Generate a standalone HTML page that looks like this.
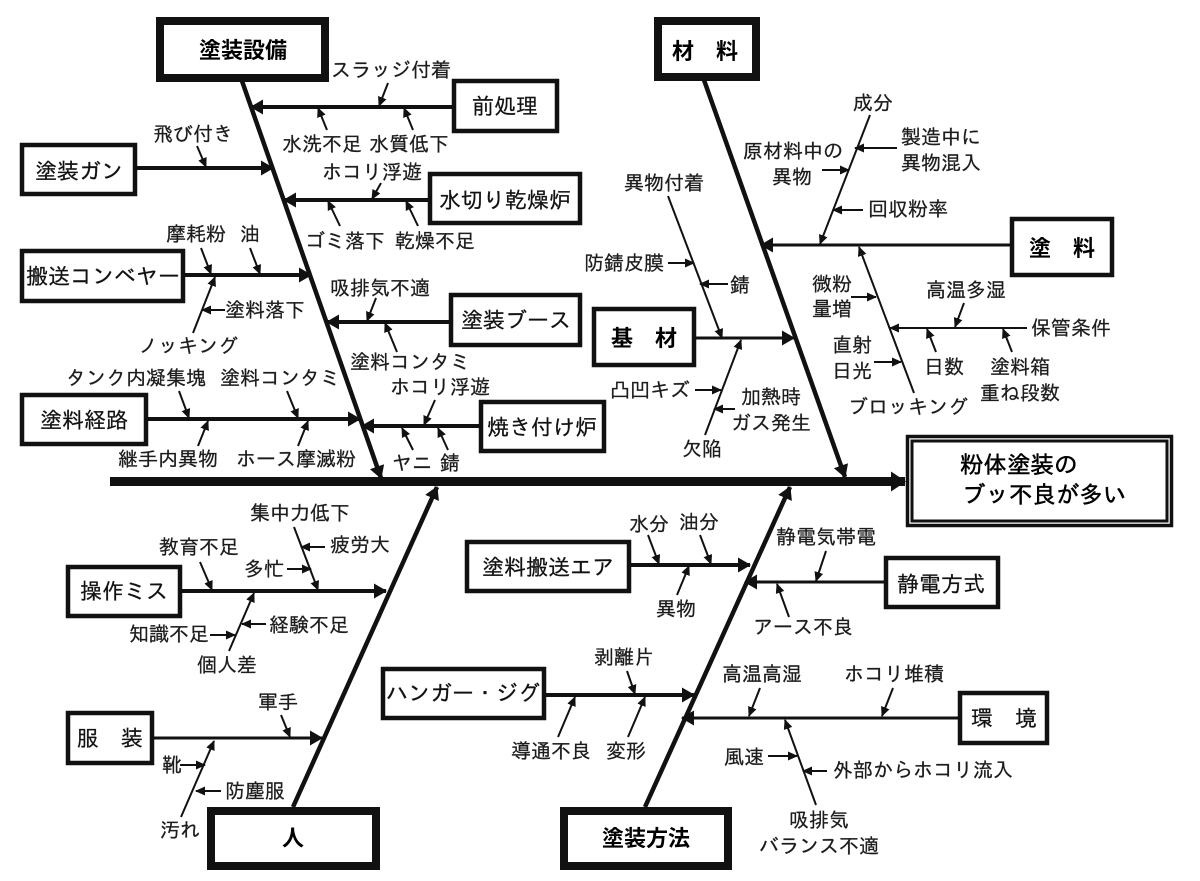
<!DOCTYPE html>
<html><head><meta charset="utf-8"><style>
html,body{margin:0;padding:0;background:#fff}
svg{display:block}
text{font-family:"Liberation Sans","IPAGothic","Noto Sans CJK JP",sans-serif;fill:#1c1c1c;stroke:#1c1c1c;stroke-width:.25;font-size:20px;text-anchor:middle}
.h{font-size:22px;fill:#111}
.c{font-size:22px;fill:#000;stroke:none;font-weight:bold;font-family:"Liberation Sans","Noto Sans CJK JP",sans-serif}
.e{font-size:23.5px;fill:#000;stroke:#000;stroke-width:.5;text-anchor:start}
rect{fill:#fff;stroke:#111}
.r4{stroke-width:4.5}.r8{stroke-width:8}
line{stroke:#111}
.s{stroke-width:2;marker-end:url(#ms)}
.b{stroke-width:4;marker-end:url(#mb)}
.p{stroke-width:4.5;marker-end:url(#mb)}
</style></head><body>
<svg width="1200" height="881" viewBox="0 0 1200 881" xmlns="http://www.w3.org/2000/svg">
<defs>
<marker id="ms" markerUnits="userSpaceOnUse" viewBox="0 0 10 9" refX="9" refY="4.5" markerWidth="10" markerHeight="9" orient="auto"><path d="M0 0L10 4.5L0 9z" fill="#111"/></marker>
<marker id="mb" markerUnits="userSpaceOnUse" viewBox="0 0 13 15" refX="12" refY="7.5" markerWidth="13" markerHeight="15" orient="auto"><path d="M0 0L13 7.5L0 15z" fill="#111"/></marker>
<marker id="mm" markerUnits="userSpaceOnUse" viewBox="0 0 15 20" refX="14" refY="10" markerWidth="15" markerHeight="20" orient="auto"><path d="M0 0L15 10L0 20z" fill="#111"/></marker>
</defs>
<line x1="110" y1="481.500" x2="905" y2="481.500" style="stroke-width:9;marker-end:url(#mm)"/>
<line class="p" x1="242" y1="81" x2="381" y2="478"/>
<line class="p" x1="704" y1="80" x2="845" y2="477"/>
<line class="p" x1="293" y1="807" x2="437" y2="487"/>
<line class="p" x1="645" y1="807" x2="790" y2="487"/>
<line class="b" x1="452" y1="107" x2="251" y2="107"/>
<line class="b" x1="137" y1="168" x2="273" y2="168"/>
<line class="b" x1="428" y1="200" x2="284" y2="200"/>
<line class="b" x1="185" y1="275" x2="311" y2="275"/>
<line class="b" x1="449" y1="322" x2="327" y2="322"/>
<line class="b" x1="148" y1="419" x2="360" y2="419"/>
<line class="b" x1="479" y1="426" x2="362" y2="426"/>
<line class="b" style="stroke-width:3" x1="1010" y1="245" x2="761" y2="245"/>
<line class="b" style="stroke-width:3" x1="696" y1="338" x2="794" y2="338"/>
<line class="b" x1="182" y1="591" x2="386" y2="591"/>
<line class="b" style="stroke-width:3" x1="154" y1="738" x2="322" y2="738"/>
<line class="b" x1="631" y1="565" x2="750" y2="565"/>
<line class="b" style="stroke-width:3" x1="884" y1="582" x2="745" y2="582"/>
<line class="b" x1="546" y1="695" x2="694" y2="695"/>
<line class="b" style="stroke-width:3" x1="958" y1="718" x2="682" y2="718"/>
<line class="s" x1="388" y1="83" x2="379" y2="106"/>
<line class="s" x1="327" y1="130" x2="318" y2="108"/>
<line class="s" x1="413" y1="130" x2="404" y2="108"/>
<line class="s" x1="197" y1="146" x2="206" y2="167"/>
<line class="s" x1="381" y1="183" x2="372" y2="199"/>
<line class="s" x1="340" y1="226" x2="328" y2="201"/>
<line class="s" x1="418" y1="226" x2="406" y2="201"/>
<line class="s" x1="201" y1="248" x2="211" y2="274"/>
<line class="s" x1="250" y1="248" x2="260" y2="274"/>
<line class="s" x1="193" y1="333" x2="215" y2="277"/>
<line class="s" x1="225" y1="310" x2="202" y2="310"/>
<line class="s" x1="376" y1="298" x2="367" y2="321"/>
<line class="s" x1="397" y1="352" x2="385" y2="323"/>
<line class="s" x1="435" y1="400" x2="424" y2="425"/>
<line class="s" x1="413" y1="450" x2="402" y2="428"/>
<line class="s" x1="448" y1="450" x2="438" y2="428"/>
<line class="s" x1="179" y1="391" x2="189" y2="418"/>
<line class="s" x1="287" y1="391" x2="298" y2="418"/>
<line class="s" x1="198" y1="446" x2="208" y2="421"/>
<line class="s" x1="298" y1="446" x2="308" y2="421"/>
<line class="s" x1="870" y1="115" x2="820" y2="244"/>
<line class="s" x1="897" y1="148" x2="855" y2="148"/>
<line class="s" x1="822" y1="170" x2="849" y2="170"/>
<line class="s" x1="863" y1="210" x2="833" y2="210"/>
<line class="s" x1="668" y1="196" x2="722" y2="338"/>
<line class="s" x1="668" y1="263" x2="694" y2="263"/>
<line class="s" x1="728" y1="284" x2="700" y2="284"/>
<line class="s" x1="705" y1="435" x2="741" y2="340"/>
<line class="s" x1="695" y1="390" x2="721" y2="390"/>
<line class="s" x1="735" y1="409" x2="714" y2="409"/>
<line class="s" x1="914" y1="393" x2="859" y2="247"/>
<line class="s" x1="851" y1="297" x2="876" y2="297"/>
<line class="s" x1="874" y1="362" x2="901" y2="362"/>
<line class="s" x1="1027" y1="328" x2="890" y2="328"/>
<line class="s" x1="964" y1="303" x2="955" y2="327"/>
<line class="s" x1="936" y1="352" x2="927" y2="329"/>
<line class="s" x1="1012" y1="352" x2="1003" y2="329"/>
<line class="s" x1="294" y1="527" x2="318" y2="590"/>
<line class="s" x1="325" y1="547" x2="301" y2="547"/>
<line class="s" x1="287" y1="569" x2="311" y2="569"/>
<line class="s" x1="200" y1="562" x2="212" y2="590"/>
<line class="s" x1="229" y1="651" x2="254" y2="593"/>
<line class="s" x1="266" y1="624" x2="242" y2="624"/>
<line class="s" x1="210" y1="635" x2="235" y2="635"/>
<line class="s" x1="281" y1="715" x2="290" y2="737"/>
<line class="s" x1="181" y1="817" x2="214" y2="741"/>
<line class="s" x1="180" y1="765" x2="205" y2="765"/>
<line class="s" x1="221" y1="791" x2="196" y2="791"/>
<line class="s" x1="648" y1="535" x2="659" y2="564"/>
<line class="s" x1="700" y1="535" x2="711" y2="564"/>
<line class="s" x1="677" y1="595" x2="689" y2="566"/>
<line class="s" x1="826" y1="551" x2="816" y2="581"/>
<line class="s" x1="789" y1="617" x2="777" y2="584"/>
<line class="s" x1="627" y1="671" x2="635" y2="694"/>
<line class="s" x1="628" y1="737" x2="645" y2="697"/>
<line class="s" x1="558" y1="737" x2="575" y2="697"/>
<line class="s" x1="760" y1="688" x2="749" y2="716"/>
<line class="s" x1="893" y1="688" x2="882" y2="716"/>
<line class="s" x1="816" y1="805" x2="785" y2="720"/>
<line class="s" x1="768" y1="756" x2="797" y2="756"/>
<line class="s" x1="827" y1="771" x2="803" y2="771"/>
<rect class="r8" x="160" y="21" width="165" height="57"/>
<rect class="r8" x="658" y="21" width="98" height="56"/>
<rect class="r8" x="211" y="811" width="165" height="55"/>
<rect class="r8" x="564" y="811" width="164" height="55"/>
<rect class="r4" x="454" y="81" width="103" height="50"/>
<rect class="r4" x="22" y="145" width="113" height="49"/>
<rect class="r4" x="430" y="174" width="150" height="49"/>
<rect class="r4" x="22" y="251" width="161" height="50"/>
<rect class="r4" x="451" y="295" width="129" height="50"/>
<rect class="r4" x="22" y="395" width="124" height="49"/>
<rect class="r4" x="481" y="402" width="123" height="49"/>
<rect class="r4" x="1012" y="219" width="100" height="56"/>
<rect class="r4" x="594" y="309" width="100" height="56"/>
<rect class="r4" x="68" y="567" width="112" height="49"/>
<rect class="r4" x="68" y="713" width="84" height="50"/>
<rect class="r4" x="467" y="542" width="162" height="49"/>
<rect class="r4" x="886" y="558" width="112" height="49"/>
<rect class="r4" x="383" y="669" width="161" height="49"/>
<rect class="r4" x="960" y="693" width="87" height="50"/>
<rect x="907.500" y="436.500" width="264" height="89" style="stroke-width:3.500"/>
<rect x="912" y="441" width="255" height="80" style="stroke-width:3"/>
<text class="c" x="243" y="58">塗装設備</text>
<text class="c" x="705" y="59">材　料</text>
<text class="c" x="1062" y="256">塗　料</text>
<text class="c" x="644" y="346">基　材</text>
<text class="c" x="293" y="846">人</text>
<text class="c" x="646" y="846">塗装方法</text>
<text class="h" x="505" y="114">前処理</text>
<text class="h" x="79" y="179">塗装ガン</text>
<text class="h" x="505" y="208">水切り乾燥炉</text>
<text class="h" x="103" y="284">搬送コンベヤー</text>
<text class="h" x="516" y="328">塗装ブース</text>
<text class="h" x="84" y="428">塗料経路</text>
<text class="h" x="542" y="435">焼き付け炉</text>
<text class="h" x="124" y="599">操作ミス</text>
<text class="h" x="110" y="746">服　装</text>
<text class="h" x="548" y="575">塗料搬送エア</text>
<text class="h" x="941" y="592">静電方式</text>
<text class="h" x="463" y="701">ハンガー・ジグ</text>
<text class="h" x="1004" y="726">環　境</text>
<text class="e" x="960" y="473">粉体塗装の</text>
<text class="e" x="962" y="503">ブッ不良が多い</text>
<text x="391" y="77">スラッジ付着</text>
<text x="322" y="151">水洗不足</text>
<text x="409" y="151">水質低下</text>
<text x="193" y="141">飛び付き</text>
<text x="372" y="179">ホコリ浮遊</text>
<text x="345" y="248">ゴミ落下</text>
<text x="435" y="248">乾燥不足</text>
<text x="196" y="241">摩耗粉</text>
<text x="250" y="241">油</text>
<text x="265" y="317">塗料落下</text>
<text x="380" y="295">吸排気不適</text>
<text x="188" y="353">ノッキング</text>
<text x="410" y="369">塗料コンタミ</text>
<text x="136" y="385">タンク内凝集塊</text>
<text x="280" y="385">塗料コンタミ</text>
<text x="440" y="394">ホコリ浮遊</text>
<text x="168" y="466">継手内異物</text>
<text x="296" y="466">ホース摩滅粉</text>
<text x="412" y="470">ヤニ</text>
<text x="450" y="470">錆</text>
<text x="873" y="110">成分</text>
<text x="941" y="144">製造中に</text>
<text x="941" y="170">異物混入</text>
<text x="793" y="158">原材料中の</text>
<text x="792" y="184">異物</text>
<text x="908" y="216">回収粉率</text>
<text x="664" y="190">異物付着</text>
<text x="624" y="270">防錆皮膜</text>
<text x="740" y="292">錆</text>
<text x="832" y="291">微粉</text>
<text x="832" y="316">量増</text>
<text x="966" y="297">高温多湿</text>
<text x="1071" y="335">保管条件</text>
<text x="852" y="352">直射</text>
<text x="852" y="378">日光</text>
<text x="944" y="374">日数</text>
<text x="1020" y="374">塗料箱</text>
<text x="1020" y="400">重ね段数</text>
<text x="908" y="414">ブロッキング</text>
<text x="650" y="397">凸凹キズ</text>
<text x="771" y="404">加熱時</text>
<text x="771" y="430">ガス発生</text>
<text x="702" y="456">欠陥</text>
<text x="300" y="520">集中力低下</text>
<text x="199" y="554">教育不足</text>
<text x="360" y="552">疲労大</text>
<text x="264" y="576">多忙</text>
<text x="309" y="632">経験不足</text>
<text x="169" y="641">知識不足</text>
<text x="227" y="672">個人差</text>
<text x="278" y="709">軍手</text>
<text x="172" y="772">靴</text>
<text x="255" y="798">防塵服</text>
<text x="180" y="837">汚れ</text>
<text x="649" y="531">水分</text>
<text x="699" y="529">油分</text>
<text x="676" y="616">異物</text>
<text x="826" y="544">静電気帯電</text>
<text x="803" y="634">アース不良</text>
<text x="624" y="664">剥離片</text>
<text x="762" y="681">高温高湿</text>
<text x="894" y="681">ホコリ堆積</text>
<text x="551" y="758">導通不良</text>
<text x="626" y="758">変形</text>
<text x="744" y="764">風速</text>
<text x="923" y="777">外部からホコリ流入</text>
<text x="819" y="827">吸排気</text>
<text x="819" y="853">バランス不適</text>
</svg>
</body></html>
